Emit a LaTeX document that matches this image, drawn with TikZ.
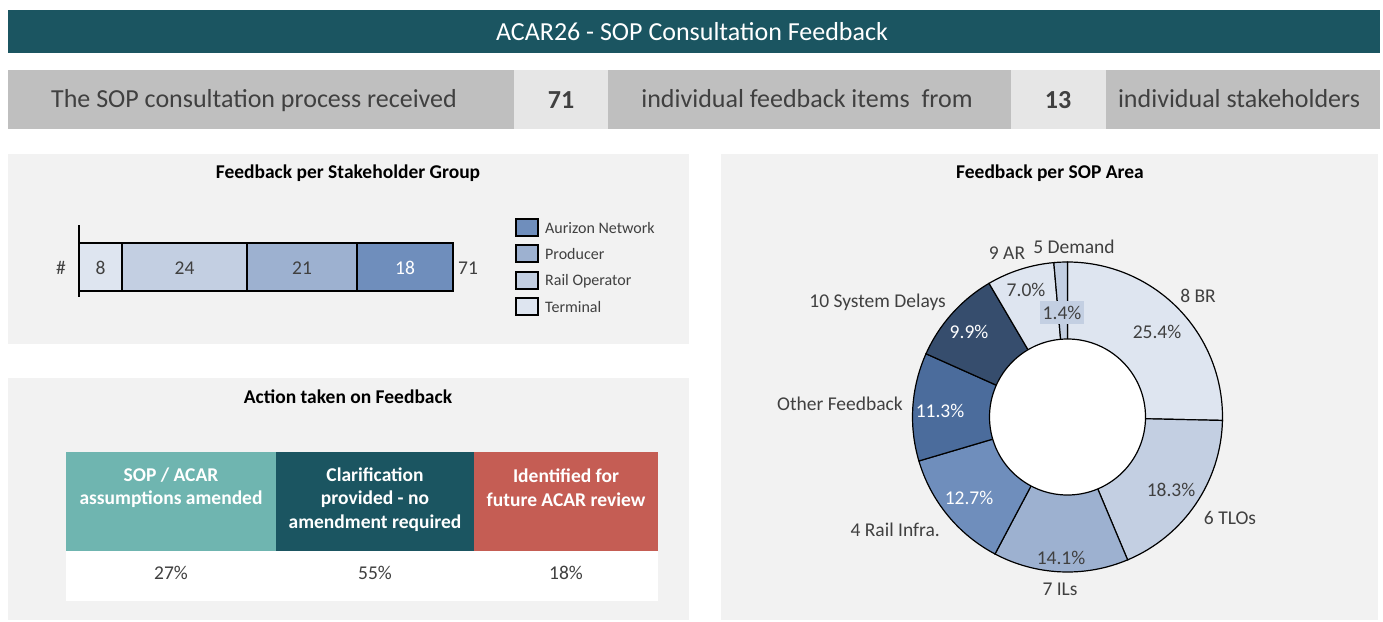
\documentclass[tikz,border=0pt]{standalone}
\usepackage{fontspec}
\setmainfont{Carlito}
\usetikzlibrary{calc}
\definecolor{cHead}{HTML}{1B5561}
\definecolor{cStat}{HTML}{BFBFBF}
\definecolor{cStatL}{HTML}{E6E6E6}
\definecolor{cPanel}{HTML}{F2F2F2}
\definecolor{cTxt}{HTML}{404040}
\definecolor{cB1}{HTML}{DEE5F0}
\definecolor{cB2}{HTML}{C3CFE2}
\definecolor{cB3}{HTML}{9DB1D0}
\definecolor{cB4}{HTML}{6F8EBC}
\definecolor{cB5}{HTML}{4B6C9C}
\definecolor{cB6}{HTML}{364D6D}
\definecolor{cTealL}{HTML}{6FB5B0}
\definecolor{cRed}{HTML}{C55D54}
\newcommand\donutslice[3]{%
  \filldraw[slicestyle,fill=#3] (dc) -- ($(dc)+(#1:155)$) arc[start angle=#1,end angle=#2,radius=155] -- cycle;}
\begin{document}
\begin{tikzpicture}[x=1pt,y=-1pt,
  panel/.style={fill=cPanel,draw=none},
  big/.style={font=\fontsize{26}{30}\selectfont,inner sep=0pt,text height=16.7pt,text depth=0pt},
  stattxt/.style={big,text=cTxt},
  statnum/.style={big,text=cTxt,font=\fontsize{26}{30}\selectfont\bfseries},
  mid/.style={font=\fontsize{19.5}{23}\selectfont,inner sep=0pt,text height=12.6pt,text depth=0pt},
  ctitle/.style={mid,text=black,font=\fontsize{19.5}{23}\selectfont\bfseries},
  lbl/.style={mid,text=cTxt},
  lblw/.style={mid,text=white},
  legtxt/.style={text=cTxt,font=\fontsize{16}{19}\selectfont,inner sep=0pt,text height=10.3pt,text depth=0pt,anchor=west},
  barseg/.style={draw=black,line width=1.2pt},
  legbox/.style={draw=black,line width=1.2pt},
  slicestyle/.style={draw=black,line width=1.2pt},
  thead/.style={text=white,font=\fontsize{19.5}{23.5}\selectfont\bfseries,align=center,inner sep=0pt},
  ]
\useasboundingbox (0,0) rectangle (1383,621);
\fill[white] (0,0) rectangle (1383,621);

% title
\fill[cHead] (8,10) rectangle (1380,53);
\node[big,text=white] (title) at (692,32) {ACAR26 - SOP Consultation Feedback};

% stats bar
\fill[cStat] (8,70) rectangle (1380,129);
\fill[cStatL] (514,70) rectangle (608,129);
\fill[cStatL] (1011,70) rectangle (1106,129);
\node[stattxt] (s1) at (254,99) {The SOP consultation process received};
\node[statnum] (s2) at (561,100) {71};
\node[stattxt] (s3) at (807,99) {individual feedback items\ \ from};
\node[statnum] (s4) at (1058,100) {13};
\node[stattxt] (s5) at (1239,99) {individual stakeholders};

% panel 1
\fill[panel] (8,154) rectangle (689,344);
\node[ctitle] (t1) at (348,172) {Feedback per Stakeholder Group};
\filldraw[barseg,fill=cB1] (79,243) rectangle (122,291);
\filldraw[barseg,fill=cB2] (122,243) rectangle (247,291);
\filldraw[barseg,fill=cB3] (247,243) rectangle (357,291);
\filldraw[barseg,fill=cB4] (357,243) rectangle (453,291);
\draw[line width=1.2pt] (79,225) -- (79,297);
\node[lbl] (hash) at (61,268) {\#};
\node[lbl] (b1) at (100.5,268) {8};
\node[lbl] (b2) at (184.5,268) {24};
\node[lbl] (b3) at (302,268) {21};
\node[lblw] (b4) at (405,268) {18};
\node[lbl] (btot) at (468,268) {71};
% legend
\filldraw[legbox,fill=cB4] (516,219) rectangle (538,236);
\filldraw[legbox,fill=cB3] (516,245) rectangle (538,262);
\filldraw[legbox,fill=cB2] (516,272) rectangle (538,289);
\filldraw[legbox,fill=cB1] (516,298) rectangle (538,315);
\node[legtxt] (l1) at (545,228) {Aurizon Network};
\node[legtxt] (l2) at (545,254) {Producer};
\node[legtxt] (l3) at (545,280) {Rail Operator};
\node[legtxt] (l4) at (545,307) {Terminal};

% panel 2
\fill[panel] (8,378) rectangle (689,620);
\node[ctitle] (t2) at (348,397) {Action taken on Feedback};
\fill[cTealL] (66,452) rectangle (276,551);
\fill[cHead] (276,452) rectangle (474,551);
\fill[cRed] (474,452) rectangle (658,551);
\fill[white] (66,551) rectangle (658,601);
\node[thead] (h1) at (171,487.5) {SOP / ACAR\\assumptions amended};
\node[thead] (h2) at (375,499.5) {Clarification\\provided - no\\amendment required};
\node[thead] (h3) at (566,487.5) {Identified for\\future ACAR review};
\node[lbl] (p1) at (171,573) {27\%};
\node[lbl] (p2) at (375,573) {55\%};
\node[lbl] (p3) at (566,573) {18\%};

% panel 3
\fill[panel] (721,154) rectangle (1378,620);
\node[ctitle] (t3) at (1050,172) {Feedback per SOP Area};
\coordinate (dc) at (1067.5,417);
\donutslice{-90}{1.27}{cB1}
\donutslice{1.27}{67.18}{cB2}
\donutslice{67.18}{117.89}{cB3}
\donutslice{117.89}{163.52}{cB4}
\donutslice{163.52}{204.08}{cB5}
\donutslice{204.08}{239.58}{cB6}
\donutslice{239.58}{264.93}{cB1}
\donutslice{264.93}{270}{cB2}
\filldraw[slicestyle,fill=white] (dc) circle[radius=78];
\fill[cB2] (1040,301) rectangle (1084,324);
\node[lbl] (d8) at (1062,313) {1.4\%};
\node[lbl] (d7) at (1026,290) {7.0\%};
\node[lbl] (d1) at (1157,332) {25.4\%};
\node[lbl] (d2) at (1171,490) {18.3\%};
\node[lbl] (d3) at (1061,558) {14.1\%};
\node[lblw] (d4) at (969,498) {12.7\%};
\node[lblw] (d5) at (940,411) {11.3\%};
\node[lblw] (d6) at (969,332) {9.9\%};
\node[lbl] (c1) at (1198,296) {8 BR};
\node[lbl] (c2) at (1230,518) {6 TLOs};
\node[lbl] (c3) at (1060,589) {7 ILs};
\node[lbl,anchor=east] (c4) at (940,530) {4 Rail Infra.};
\node[lbl,anchor=east] (c5) at (903,404) {Other Feedback};
\node[lbl,anchor=east] (c6) at (946,301) {10 System Delays};
\node[lbl] (c7) at (1007,253) {9 AR};
\node[lbl] (c8) at (1074,247) {5 Demand};
\end{tikzpicture}
\end{document}
